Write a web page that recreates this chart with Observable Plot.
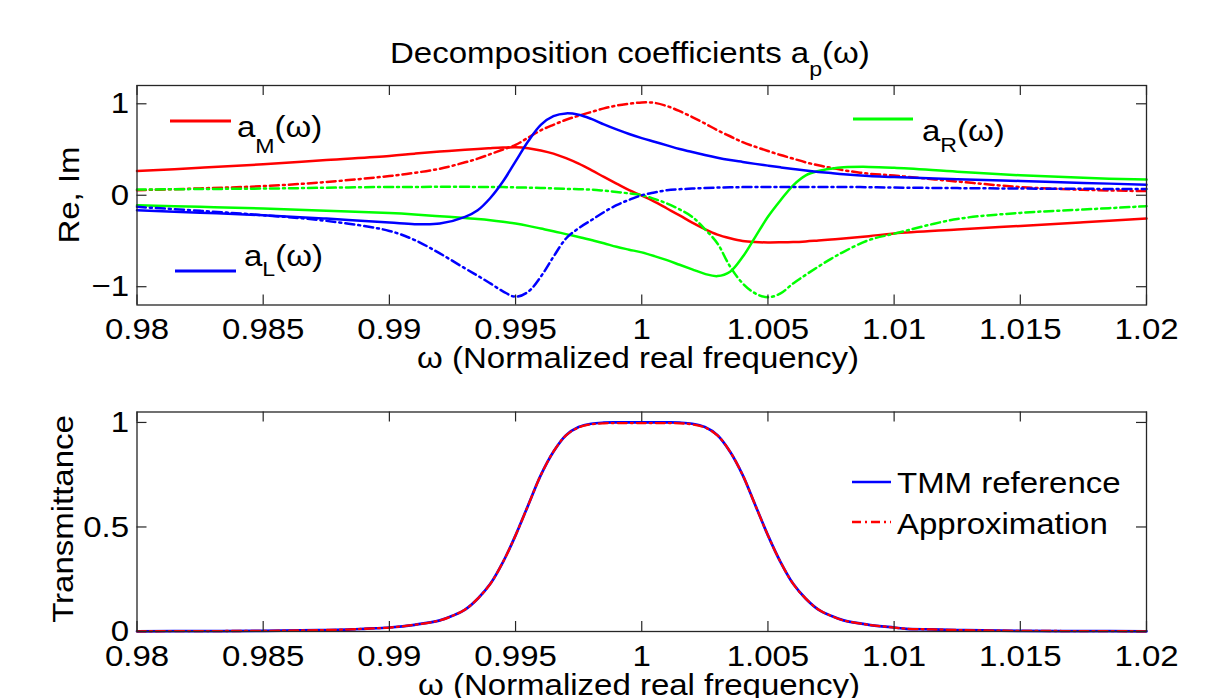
<!DOCTYPE html>
<html><head><meta charset="utf-8">
<script src="https://cdn.jsdelivr.net/npm/d3@7"></script>
<script src="https://cdn.jsdelivr.net/npm/@observablehq/plot@0.6"></script>
<style>
body{margin:0;background:#fff;}
#wrap{position:relative;width:1223px;height:698px;overflow:hidden;font-family:"Liberation Sans",Arial,Helvetica,sans-serif;}
#wrap svg{position:absolute;left:0;overflow:visible;}
</style></head><body><div id="wrap"></div>
<script>
// ---------- data (top panel) ----------
const omega = [0.98,0.9825,0.985,0.9875,0.99,0.991,0.992,0.993,0.9935,0.994,0.9945,0.995,0.9955,0.996,0.9965,0.997,0.9975,0.998,0.9985,0.999,0.9995,1.0,1.0005,1.001,1.0015,1.002,1.0025,1.003,1.0035,1.004,1.0045,1.005,1.0055,1.006,1.0065,1.007,1.0075,1.008,1.009,1.01,1.0125,1.015,1.0175,1.02];
const aM_re = [0.265,0.30,0.338,0.385,0.43,0.455,0.478,0.497,0.506,0.514,0.521,0.525,0.515,0.49,0.455,0.405,0.345,0.275,0.2,0.127,0.055,-0.005,-0.07,-0.145,-0.22,-0.30,-0.37,-0.43,-0.47,-0.50,-0.512,-0.516,-0.515,-0.512,-0.505,-0.495,-0.485,-0.473,-0.447,-0.418,-0.375,-0.335,-0.295,-0.255];
const aM_im = [0.055,0.075,0.10,0.145,0.21,0.245,0.29,0.36,0.40,0.45,0.50,0.55,0.63,0.71,0.77,0.825,0.87,0.91,0.95,0.98,1.0,1.015,1.01,0.975,0.92,0.855,0.785,0.71,0.645,0.58,0.53,0.484,0.44,0.40,0.36,0.327,0.30,0.273,0.236,0.215,0.15,0.09,0.06,0.045];
const aL_re = [-0.164,-0.19,-0.218,-0.255,-0.298,-0.316,-0.31,-0.236,-0.164,-0.03,0.15,0.37,0.59,0.77,0.865,0.895,0.88,0.835,0.775,0.72,0.67,0.625,0.585,0.545,0.505,0.473,0.44,0.41,0.385,0.364,0.343,0.324,0.305,0.287,0.27,0.255,0.242,0.229,0.21,0.2,0.175,0.156,0.135,0.116];
const aL_im = [-0.127,-0.17,-0.218,-0.28,-0.39,-0.49,-0.636,-0.80,-0.88,-0.964,-1.05,-1.11,-1.055,-0.89,-0.673,-0.473,-0.36,-0.273,-0.185,-0.109,-0.05,0.0,0.03,0.055,0.066,0.073,0.079,0.084,0.087,0.089,0.09,0.091,0.091,0.091,0.091,0.091,0.091,0.091,0.088,0.084,0.078,0.073,0.07,0.069];
const aR_re = [-0.109,-0.127,-0.145,-0.17,-0.195,-0.21,-0.229,-0.25,-0.26,-0.273,-0.29,-0.31,-0.335,-0.364,-0.393,-0.425,-0.456,-0.49,-0.525,-0.564,-0.595,-0.625,-0.665,-0.71,-0.76,-0.81,-0.86,-0.884,-0.836,-0.673,-0.455,-0.236,-0.055,0.109,0.218,0.265,0.29,0.305,0.31,0.3,0.258,0.218,0.19,0.171];
const aR_im = [0.062,0.068,0.073,0.082,0.091,0.091,0.092,0.092,0.091,0.09,0.089,0.086,0.083,0.08,0.075,0.07,0.066,0.062,0.05,0.036,0.02,0.0,-0.04,-0.09,-0.155,-0.236,-0.37,-0.527,-0.78,-0.964,-1.073,-1.116,-1.073,-0.964,-0.87,-0.78,-0.695,-0.618,-0.49,-0.42,-0.26,-0.193,-0.156,-0.12];

// ---------- data (bottom panel) ----------
const omegaT = [0.98,0.9825,0.985,0.9865,0.9875,0.9885,0.989,0.99,0.991,0.992,0.9925,0.993,0.9935,0.994,0.9945,0.995,0.9955,0.996,0.9965,0.997,0.9975,0.998,0.9985,0.999,1.0,1.001,1.0015,1.002,1.0025,1.003,1.0035,1.004,1.0045,1.005,1.0055,1.006,1.0065,1.007,1.0075,1.008,1.009,1.01,1.0105,1.0115,1.0125,1.0135,1.015,1.0175,1.02];
const tmmRef = [0.001,0.002,0.003,0.005,0.007,0.010,0.013,0.019,0.032,0.053,0.075,0.105,0.157,0.228,0.332,0.46,0.604,0.748,0.86,0.939,0.978,0.994,0.999,1.0,1.0,1.0,0.999,0.994,0.978,0.939,0.86,0.748,0.604,0.46,0.332,0.228,0.157,0.105,0.075,0.053,0.032,0.019,0.013,0.010,0.007,0.005,0.003,0.002,0.001];
const approx = [0.001,0.002,0.003,0.005,0.007,0.010,0.013,0.019,0.032,0.053,0.075,0.105,0.157,0.228,0.332,0.46,0.604,0.748,0.86,0.938,0.976,0.991,0.996,0.997,0.997,0.997,0.996,0.991,0.976,0.938,0.86,0.748,0.604,0.46,0.332,0.228,0.157,0.105,0.075,0.053,0.032,0.019,0.013,0.010,0.007,0.005,0.003,0.002,0.001];

// ---------- ticks ----------
const xTicks = [0.98,0.985,0.99,0.995,1.0,1.005,1.01,1.015,1.02];
const xTickLabels = ["0.98","0.985","0.99","0.995","1","1.005","1.01","1.015","1.02"];
const yTicksTop = [-1,0,1];
const yTickLabelsTop = ["\u22121","0","1"];
const yTicksBot = [0,0.5,1];
const yTickLabelsBot = ["0","0.5","1"];

// ---------- layout ----------
const W = 1223, H1 = 375, H2 = 323;
const mL = 136.5, mR = 77;
const FONT = '"Liberation Sans",Arial,Helvetica,sans-serif';
const AX = "#262626";
const DASHDOT = "9,4,2,4";
const GREEN = "#00ff00";
const STRETCH = 1.1;

function rows(xs, ys){ return xs.map((x,i)=>({omega:x, value:ys[i]})); }

function frameMarks(yTicks, yLabels, plotW, plotH){
  const xf = d => xTickLabels[xTicks.indexOf(d)];
  const yf = d => yLabels[yTicks.indexOf(d)];
  return [
    Plot.frame({stroke: AX, strokeWidth: 1.3}),
    Plot.tickX(xTicks, {x: d=>d, insetTop: plotH-10, stroke: AX, strokeWidth: 1.2}),
    Plot.tickX(xTicks, {x: d=>d, insetBottom: plotH-10, stroke: AX, strokeWidth: 1.2}),
    Plot.tickY(yTicks, {y: d=>d, insetRight: plotW-10, stroke: AX, strokeWidth: 1.2}),
    Plot.tickY(yTicks, {y: d=>d, insetLeft: plotW-10, stroke: AX, strokeWidth: 1.2}),
    Plot.axisX(xTicks, {tickSize: 0, tickPadding: 13, tickFormat: xf, fontSize: 30, label: null}),
    Plot.axisY(yTicks, {tickSize: 0, tickPadding: 8, tickFormat: yf, fontSize: 30, label: null})
  ];
}

const plotW = W - mL - mR;
const topMT = 85, topMB = H1 - 304.5;
const topPlotH = H1 - topMT - topMB;

const series = [
  {d: aM_re, c: "#ff0000", dash: null},
  {d: aM_im, c: "#ff0000", dash: DASHDOT},
  {d: aR_re, c: GREEN, dash: null},
  {d: aR_im, c: GREEN, dash: DASHDOT},
  {d: aL_re, c: "#0000ff", dash: null},
  {d: aL_im, c: "#0000ff", dash: DASHDOT}
];

const topPlot = Plot.plot({
  width: W, height: H1,
  marginLeft: mL, marginRight: mR, marginTop: topMT, marginBottom: topMB,
  x: {domain: [0.98, 1.02]},
  y: {domain: [-1.2, 1.2]},
  style: {fontFamily: FONT, fontSize: "30px", color: "#000", background: "transparent"},
  marks: [
    ...series.map(s => Plot.line(rows(omega, s.d), {x: "omega", y: "value", stroke: s.c, strokeWidth: 2.5, strokeDasharray: s.dash, curve: "catmull-rom"})),
    ...frameMarks(yTicksTop, yTickLabelsTop, plotW, topPlotH)
  ]
});

const botMT = 411.5 - H1, botMB = H2 - (631 - H1);
const botPlotH = H2 - botMT - botMB;
const botPlot = Plot.plot({
  width: W, height: H2,
  marginLeft: mL, marginRight: mR, marginTop: botMT, marginBottom: botMB,
  x: {domain: [0.98, 1.02]},
  y: {domain: [0, 1.05]},
  style: {fontFamily: FONT, fontSize: "30px", color: "#000", background: "transparent"},
  marks: [
    Plot.line(rows(omegaT, tmmRef), {x: "omega", y: "value", stroke: "#0000ff", strokeWidth: 2.7, curve: "catmull-rom"}),
    Plot.line(rows(omegaT, approx), {x: "omega", y: "value", stroke: "#ff0000", strokeWidth: 2.3, strokeDasharray: DASHDOT, curve: "catmull-rom"}),
    ...frameMarks(yTicksBot, yTickLabelsBot, plotW, botPlotH)
  ]
});

const wrap = document.getElementById("wrap");
topPlot.style.top = "0px";
botPlot.style.top = H1 + "px";
wrap.appendChild(topPlot);
wrap.appendChild(botPlot);

// ---------- texts: title, axis labels, legends ----------
function richText(svg, x, y, parts, anchor, subDy){
  const sd = subDy || 12;
  const t = d3.select(svg).append("text")
    .attr("x", x).attr("y", y)
    .attr("font-family", FONT).attr("font-size", 30).attr("fill", "#000")
    .attr("text-anchor", anchor || "start");
  let sub = false;
  parts.forEach(p => {
    const s = t.append("tspan").text(p.t);
    if (p.sub && !sub) { s.attr("dy", sd).attr("font-size", 21); sub = true; }
    else if (p.sub) { s.attr("font-size", 21); }
    else if (!p.sub && sub) { s.attr("dy", -sd).attr("font-size", 30); sub = false; }
  });
  return t;
}
function legLine(svg, x1, x2, y, color, dash, w){
  d3.select(svg).append("line")
    .attr("x1", x1).attr("x2", x2).attr("y1", y).attr("y2", y)
    .attr("stroke", color).attr("stroke-width", w || 3)
    .attr("stroke-dasharray", dash || null);
}

// title
richText(topPlot, 390, 63, [{t: "Decomposition coefficients a"}, {t: "p", sub: true}, {t: "(\u03c9)"}], "start", 13);
// x labels
richText(topPlot, 638, 368, [{t: "\u03c9 (Normalized real frequency)"}], "middle");
richText(botPlot, 639, 695 - H1, [{t: "\u03c9 (Normalized real frequency)"}], "middle");
// y labels
d3.select(topPlot).append("text").attr("transform", "translate(79,195) rotate(-90)")
  .attr("text-anchor", "middle").attr("font-family", FONT).attr("font-size", 30).attr("fill", "#000").text("Re, Im");
d3.select(botPlot).append("text").attr("transform", `translate(73,${519 - H1}) rotate(-90)`)
  .attr("text-anchor", "middle").attr("font-family", FONT).attr("font-size", 30).attr("fill", "#000").text("Transmittance");

// top legends
legLine(topPlot, 170, 231, 121, "#ff0000");
richText(topPlot, 237, 137, [{t: "a"}, {t: "M", sub: true}, {t: "(\u03c9)"}], "start", 16);
legLine(topPlot, 175, 236, 271, "#0000ff");
richText(topPlot, 244, 266, [{t: "a"}, {t: "L", sub: true}, {t: "(\u03c9)"}], "start", 10);
legLine(topPlot, 853, 913, 119, GREEN);
richText(topPlot, 922, 141, [{t: "a"}, {t: "R", sub: true}, {t: "(\u03c9)"}], "start", 11);

// bottom legend
legLine(botPlot, 852, 891, 482 - H1, "#0000ff", null, 2.7);
richText(botPlot, 897, 493 - H1, [{t: "TMM reference"}]);
legLine(botPlot, 852, 891, 522 - H1, "#ff0000", DASHDOT, 2.4);
richText(botPlot, 897, 534 - H1, [{t: "Approximation"}]);

// the reference's lettering is slightly wider than Liberation Sans:
// stretch each text horizontally about its own anchor, keeping its position
[topPlot, botPlot].forEach(svg => {
  svg.querySelectorAll("text").forEach(el => {
    const bb = el.getBBox();
    const anchor = getComputedStyle(el).textAnchor;
    const ax = anchor === "middle" ? bb.x + bb.width / 2 : anchor === "end" ? bb.x + bb.width : bb.x;
    const tr = el.getAttribute("transform") || "";
    el.setAttribute("transform", `${tr} translate(${ax},0) scale(${STRETCH},1) translate(${-ax},0)`);
  });
});
</script>
</body></html>
